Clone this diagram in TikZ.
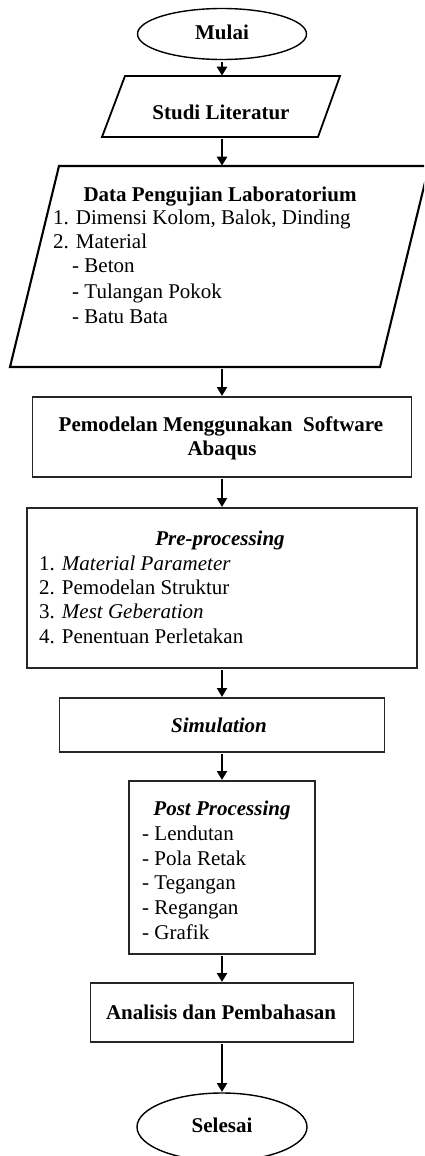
\documentclass[tikz,border=0pt]{standalone}
\usepackage{fontspec}
\setmainfont{Liberation Serif}
\usetikzlibrary{shapes.geometric,arrows.meta}
\tikzset{
  box/.style={draw=black!85, line width=1.4pt, rectangle, inner sep=0pt},
  oval/.style={draw=black, line width=1.4pt, ellipse, inner sep=0pt},
  arr/.style={line width=2.8pt, -{Triangle[width=10pt,length=9pt]}, shorten <=1.5pt, shorten >=0.3pt},
  txt/.style={inner sep=0pt, font=\fontsize{21}{24.5}\selectfont},
  ttl/.style={txt, anchor=base, font=\fontsize{21}{24.5}\selectfont\bfseries},
  ttli/.style={txt, anchor=base, font=\fontsize{21}{24.5}\selectfont\bfseries\itshape},
  itm/.style={txt, anchor=base west}
}
\begin{document}
\begin{tikzpicture}[x=1pt,y=-1pt]
\useasboundingbox (0,0) rectangle (424,1156);
\fill[white] (0,0) rectangle (424,1156);
\clip (0,0) rectangle (424,1156);

% shapes
\node[oval, minimum width=169pt, minimum height=51pt] (mulai) at (222,34) {};
\draw[line width=1.8pt] (125,76) -- (340,76) -- (318,137) -- (102,137) -- cycle;
\coordinate (studiT) at (222,76);
\coordinate (studiB) at (222,137);
\draw[line width=2.1pt] (59,166) -- (429,166) -- (380,367) -- (10,367) -- cycle;
\coordinate (dataT) at (222,166);
\coordinate (dataB) at (222,367);
\node[box, minimum width=379pt, minimum height=80pt] (pem) at (222,437) {};
\node[box, minimum width=390pt, minimum height=160pt] (pre) at (222,588) {};
\node[box, minimum width=325pt, minimum height=54pt] (sim) at (222,725) {};
\node[box, minimum width=186pt, minimum height=173pt] (post) at (222,867.5) {};
\node[box, minimum width=263pt, minimum height=59pt] (ana) at (222,1012.5) {};
\node[oval, minimum width=170pt, minimum height=68pt] (selesai) at (222,1127) {};

% connectors
\draw[arr] (mulai.south) -- (studiT);
\draw[arr] (studiB) -- (dataT);
\draw[arr] (dataB) -- (pem.north);
\draw[arr] (pem.south) -- (pre.north);
\draw[arr] (pre.south) -- (sim.north);
\draw[arr] (sim.south) -- (post.north);
\draw[arr] (post.south) -- (ana.north);
\draw[arr] (ana.south) -- (selesai.north);

% texts
\node[ttl] (tMulai) at (222,40) {Mulai};
\node[ttl] (tStudi) at (221,119) {Studi Literatur};
\node[ttl] (tData) at (220,201) {Data Pengujian Laboratorium};
\node[itm] (d1) at (53,224) {1. Dimensi Kolom, Balok, Dinding};
\node[itm] (d2) at (53,248) {2. Material};
\node[itm] (d3) at (72,272) {- Beton};
\node[itm] (d4) at (72,298) {- Tulangan Pokok};
\node[itm] (d5) at (72,323) {- Batu Bata};
\node[ttl] (tPem1) at (221,431) {Pemodelan Menggunakan\ \ Software};
\node[ttl] (tPem2) at (222,455) {Abaqus};
\node[ttli] (tPre) at (220,545) {Pre-processing};
\node[itm] (p1) at (39,570) {1. \textit{Material Parameter}};
\node[itm] (p2) at (39,594) {2. Pemodelan Struktur};
\node[itm] (p3) at (39,618) {3. \textit{Mest Geberation}};
\node[itm] (p4) at (39,643) {4. Penentuan Perletakan};
\node[ttli] (tSim) at (219,732) {Simulation};
\node[ttli] (tPost) at (222,815) {Post Processing};
\node[itm] (q1) at (142,840) {- Lendutan};
\node[itm] (q2) at (142,865) {- Pola Retak};
\node[itm] (q3) at (142,889) {- Tegangan};
\node[itm] (q4) at (142,914) {- Regangan};
\node[itm] (q5) at (142,939) {- Grafik};
\node[ttl] (tAna) at (221,1019) {Analisis dan Pembahasan};
\node[ttl] (tSel) at (222,1132) {Selesai};
\end{tikzpicture}
\end{document}
